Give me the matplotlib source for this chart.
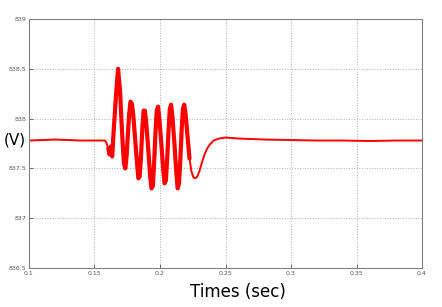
import numpy as np
import matplotlib.pyplot as plt

# points (time in s, voltage in V)
t = [0.100, 0.120, 0.140, 0.158, 0.159, 0.1605, 0.1615, 0.1625, 0.1635, 0.1645, 0.1655, 0.1665,
     0.1675, 0.168, 0.1685, 0.1695, 0.1705, 0.1715, 0.1725, 0.1735, 0.1745, 0.1755, 0.1765,
     0.1775, 0.1785, 0.1795, 0.181, 0.1825, 0.1835, 0.1845, 0.1855, 0.1865, 0.1875, 0.1885,
     0.1895, 0.191, 0.1925, 0.1935, 0.1945, 0.1955, 0.1965, 0.1975, 0.1985, 0.1995, 0.201,
     0.2025, 0.2035, 0.2045, 0.2055, 0.2065, 0.2075, 0.2085, 0.2095, 0.211, 0.2125, 0.2135,
     0.2145, 0.2155, 0.2165, 0.2175, 0.2185, 0.2195, 0.2205, 0.2215, 0.2225, 0.224, 0.2255,
     0.227, 0.2285, 0.230, 0.232, 0.234, 0.236, 0.238, 0.241, 0.245, 0.250, 0.260, 0.280,
     0.300, 0.320, 0.340, 0.360, 0.380, 0.400]
volts = [837.78, 837.79, 837.78, 837.78, 837.76, 837.70, 837.64, 837.72, 837.62, 837.85, 838.05, 838.25,
         838.42, 838.50, 838.42, 838.28, 838.00, 837.75, 837.55, 837.50, 837.62, 837.85, 838.05,
         838.17, 838.15, 838.05, 837.80, 837.55, 837.40, 837.42, 837.62, 837.90, 838.08, 838.08,
         837.95, 837.70, 837.42, 837.30, 837.32, 837.55, 837.85, 838.08, 838.12, 838.00, 837.75,
         837.48, 837.35, 837.38, 837.60, 837.88, 838.10, 838.14, 838.02, 837.75, 837.45, 837.30,
         837.35, 837.58, 837.88, 838.10, 838.14, 838.05, 837.90, 837.75, 837.60, 837.47, 837.41,
         837.40, 837.42, 837.47, 837.56, 837.64, 837.70, 837.74, 837.78, 837.80, 837.81, 837.80, 837.79,
         837.785, 837.78, 837.78, 837.775, 837.78, 837.78]

xticks = [0.1, 0.15, 0.2, 0.25, 0.3, 0.35, 0.4]
yticks = [836.5, 837, 837.5, 838, 838.5, 839]

t = np.array(t)
volts = np.array(volts)

fig = plt.figure(figsize=(4.42, 3.07), dpi=100)
ax = fig.add_axes([0.0656, 0.127, 0.8892, 0.811])

# whole trace thin, the oscillating part drawn thicker (it is noisy in the original)
ax.plot(t, volts, color='#ff0000', lw=1.4, solid_joinstyle='round')
burst = (t >= 0.1605) & (t <= 0.2225)
ax.plot(t[burst], volts[burst], color='#ff0000', lw=3.0,
        solid_joinstyle='round', solid_capstyle='round')

ax.set_xlim(0.1, 0.4)
ax.set_ylim(836.5, 839)
ax.set_xticks(xticks)
ax.set_xticklabels(['0.1', '0.15', '0.2', '0.25', '0.3', '0.35', '0.4'])
ax.set_yticks(yticks)
ax.set_yticklabels(['836.5', '837', '837.5', '838', '838.5', '839'])
ax.tick_params(direction='in', length=3, width=0.6, labelsize=4.5,
               colors='#555555', pad=2)
ax.grid(True, linestyle=':', color='#b0b0b0', linewidth=0.7)
for s in ax.spines.values():
    s.set_color('#808080')
    s.set_linewidth(0.8)

fig.text(0.008, 0.543, '(V)', fontsize=11, va='center', ha='left', color='#000000')
fig.text(0.538, 0.05, 'Times (sec)', fontsize=12, va='center', ha='center', color='#000000')

fig.savefig('out.png', dpi=100)
